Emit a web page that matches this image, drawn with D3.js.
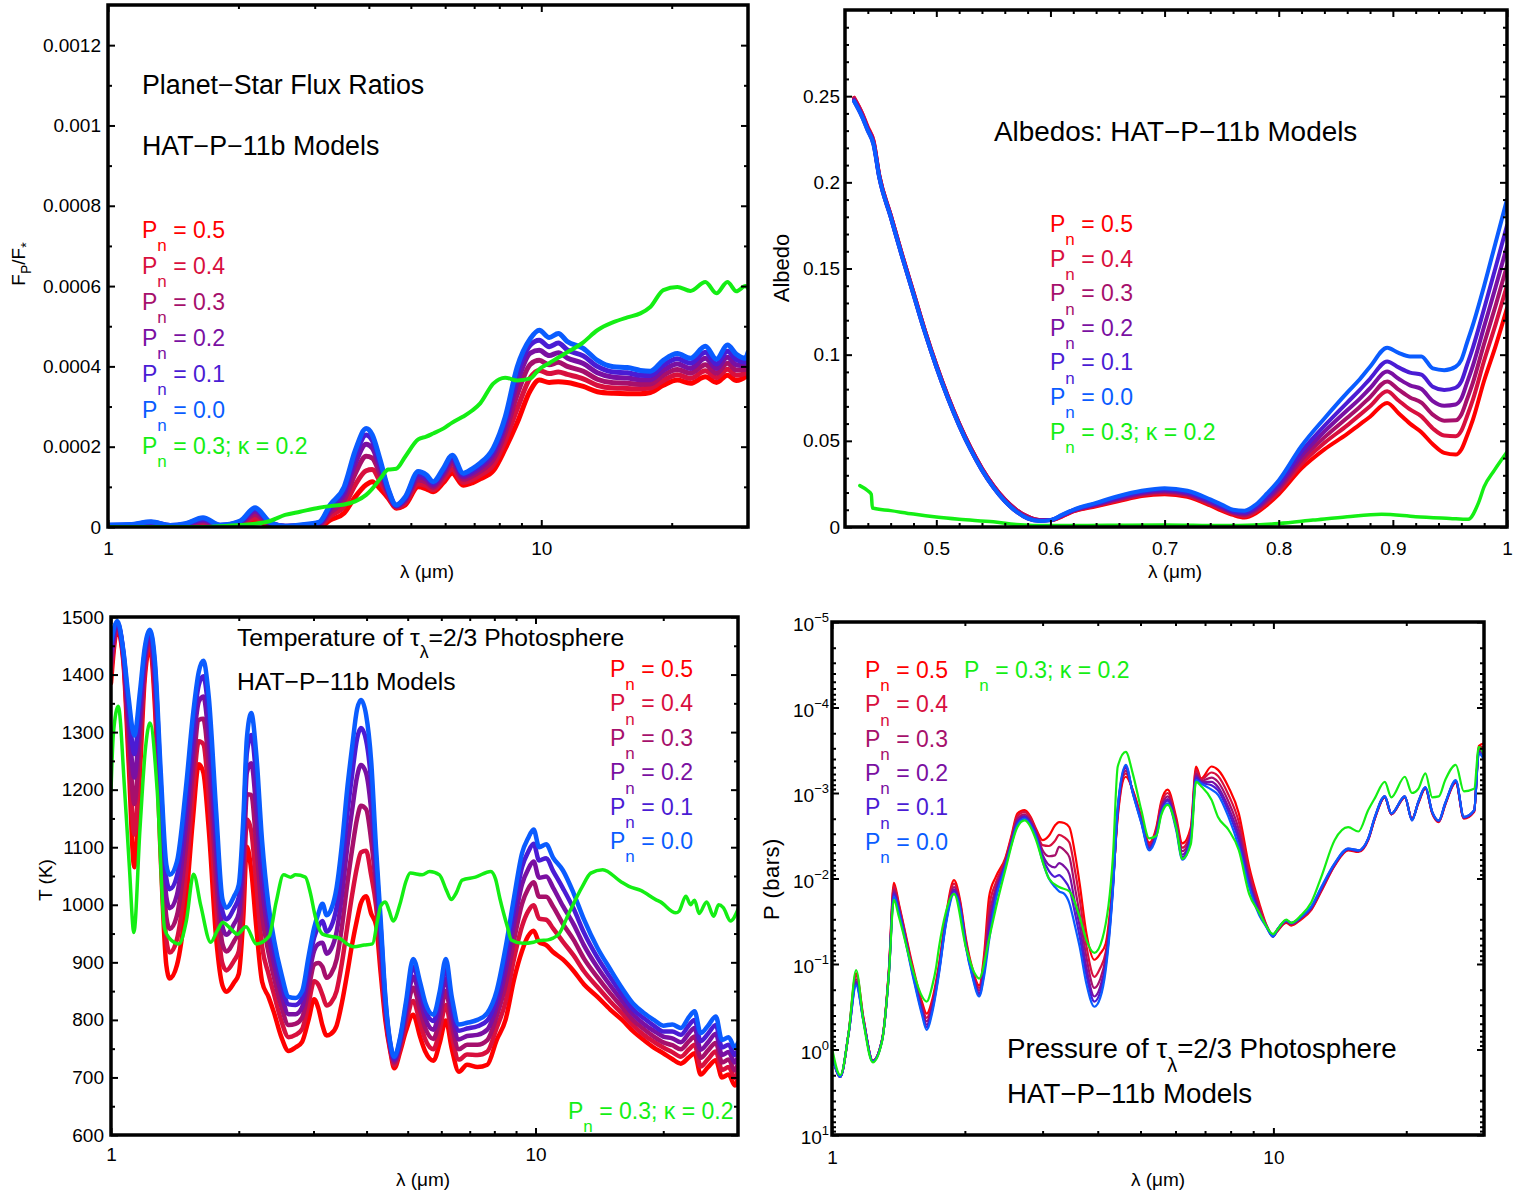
<!DOCTYPE html>
<html>
<head>
<meta charset="utf-8">
<script src="https://cdn.jsdelivr.net/npm/d3@7"></script>
<style>
  html, body { margin: 0; padding: 0; background: #fff; }
  svg text { font-family: "Liberation Sans", Arial, Helvetica, sans-serif; }
</style>
</head>
<body>
<svg id="fig" width="1530" height="1197"></svg>
<script>
// ===================== model series =====================
const PN_LABELS = ["0.5", "0.4", "0.3", "0.2", "0.1", "0.0"];
const KAPPA_LABEL = "0.3; \u03ba = 0.2";

// --- Planet-star flux ratio (values in units of 1e-4) ---
const fluxWavelength = [1.00,1.124,1.257,1.391,1.506,1.657,1.814,2.018,2.185,2.366,2.563,2.776,3.072,3.256,3.508,3.720,3.943,4.071,4.248,4.433,4.626,4.852,5.199,5.425,5.630,5.938,6.229,6.604,6.928,7.229,7.746,8.257,8.803,9.433,9.894,10.43,10.95,11.48,12.50,13.47,14.67,15.80,16.93,17.85,19.13,20.61,22.09,23.92,25.37,26.89,28.20,29.59,30.0];
const fluxPn05 = [0,0,0.02,0,0,0.05,0,0.03,0.15,0.03,0,0,0,0.17,0.35,0.75,1.05,1.13,0.95,0.72,0.47,0.55,1.0,0.95,0.88,1.1,1.34,1.04,1.1,1.2,1.4,1.95,2.6,3.4,3.66,3.60,3.62,3.60,3.50,3.37,3.33,3.32,3.32,3.35,3.53,3.66,3.58,3.74,3.60,3.78,3.65,3.74,3.80];
const fluxPn04 = [.01,.01,.04,.01,.02,.09,.01,.06,.23,.05,.01,.01,.03,.27,.52,1.05,1.40,1.43,1.13,.78,.49,.60,1.08,1.03,.93,1.18,1.44,1.11,1.18,1.29,1.54,2.15,2.95,3.72,3.90,3.82,3.86,3.80,3.69,3.53,3.46,3.45,3.44,3.46,3.65,3.79,3.70,3.89,3.72,3.93,3.78,3.83,3.91];
const fluxPn03 = [.02,.03,.07,.02,.04,.13,.02,.09,.31,.07,.01,.02,.06,.36,.68,1.33,1.76,1.72,1.31,.83,.51,.65,1.17,1.12,.99,1.27,1.56,1.19,1.27,1.39,1.68,2.35,3.30,4.05,4.15,4.04,4.10,4.00,3.88,3.68,3.59,3.58,3.55,3.56,3.78,3.92,3.83,4.04,3.83,4.08,3.91,3.92,4.02];
const fluxPn02 = [.03,.04,.10,.03,.06,.17,.03,.11,.39,.09,.02,.03,.08,.44,.82,1.58,2.06,1.97,1.46,.88,.53,.69,1.25,1.19,1.04,1.34,1.66,1.25,1.34,1.47,1.80,2.52,3.60,4.33,4.40,4.27,4.34,4.21,4.07,3.84,3.73,3.71,3.67,3.67,3.90,4.06,3.95,4.20,3.95,4.23,4.04,4.02,4.13];
const fluxPn01 = [.04,.05,.12,.04,.07,.20,.04,.13,.44,.11,.02,.04,.10,.50,.92,1.76,2.29,2.16,1.58,.92,.54,.72,1.32,1.25,1.09,1.40,1.73,1.30,1.40,1.54,1.89,2.65,3.82,4.53,4.65,4.49,4.58,4.41,4.26,4.00,3.86,3.84,3.78,3.77,4.03,4.19,4.08,4.35,4.06,4.38,4.17,4.11,4.24];
const fluxPn00 = [0.05,0.06,0.13,0.04,0.08,0.23,0.05,0.15,0.48,0.12,0.02,0.05,0.12,0.55,1.0,1.9,2.45,2.3,1.67,0.95,0.55,0.75,1.38,1.3,1.13,1.45,1.79,1.34,1.45,1.59,1.96,2.74,3.99,4.69,4.90,4.72,4.82,4.62,4.45,4.15,3.99,3.97,3.90,3.88,4.15,4.32,4.20,4.50,4.18,4.53,4.30,4.20,4.35];
const fluxKappa = [0,0,0,0,0,0,0.02,0.05,0.08,0.15,0.3,0.38,0.48,0.52,0.56,0.64,0.8,0.95,1.2,1.43,1.45,1.75,2.18,2.25,2.33,2.45,2.6,2.75,2.9,3.08,3.57,3.72,3.65,3.7,3.93,4.08,4.22,4.35,4.6,4.9,5.1,5.22,5.32,5.48,5.9,5.98,5.88,6.1,5.82,6.1,5.87,6.0,5.95];
const fluxTickValues = [0, 2, 4, 6, 8, 10, 12];
const fluxTickLabels = ["0", "0.0002", "0.0004", "0.0006", "0.0008", "0.001", "0.0012"];

// --- Albedo ---
const albedoWavelength = [0.428,0.435,0.44,0.445,0.45,0.46,0.47,0.48,0.49,0.50,0.51,0.52,0.53,0.54,0.55,0.56,0.57,0.58,0.59,0.60,0.61,0.62,0.64,0.66,0.68,0.70,0.72,0.74,0.75,0.76,0.77,0.78,0.79,0.80,0.82,0.84,0.86,0.87,0.88,0.895,0.905,0.915,0.925,0.935,0.945,0.955,0.96,0.965,0.97,0.98,0.99,1.0];
const albedoPn05 = [0.249,0.240,0.232,0.224,0.204,0.181,0.158,0.136,0.114,0.094,0.076,0.060,0.046,0.034,0.024,0.016,0.010,0.006,0.004,0.004,0.006,0.009,0.012,0.015,0.018,0.019,0.0175,0.0125,0.0095,0.007,0.0055,0.008,0.013,0.019,0.034,0.045,0.054,0.059,0.064,0.072,0.066,0.060,0.055,0.048,0.043,0.042,0.045,0.053,0.062,0.085,0.105,0.127];
const albedoPn04 = [0.249,0.240,0.231,0.224,0.204,0.181,0.158,0.136,0.114,0.094,0.076,0.060,0.046,0.034,0.024,0.016,0.010,0.006,0.004,0.004,0.0062,0.0092,0.0124,0.0156,0.0186,0.0197,0.0182,0.0132,0.0102,0.0076,0.0063,0.0091,0.0144,0.0207,0.0367,0.0488,0.0590,0.0645,0.0701,0.0787,0.0734,0.0682,0.0642,0.0572,0.0531,0.0527,0.0559,0.0643,0.0736,0.0966,0.1176,0.1402];
const albedoPn03 = [0.248,0.239,0.231,0.223,0.204,0.181,0.158,0.136,0.114,0.094,0.076,0.060,0.046,0.034,0.024,0.016,0.010,0.006,0.004,0.004,0.0064,0.0094,0.0128,0.0162,0.0192,0.0204,0.0189,0.0139,0.0109,0.0082,0.0071,0.0100,0.0156,0.0221,0.0391,0.0520,0.0634,0.0691,0.0753,0.0845,0.0797,0.0752,0.0722,0.0652,0.0617,0.0619,0.0653,0.0741,0.0835,0.1065,0.1284,0.1516];
const albedoPn02 = [0.248,0.239,0.231,0.223,0.203,0.180,0.157,0.135,0.113,0.093,0.075,0.059,0.045,0.033,0.023,0.015,0.009,0.005,0.0037,0.004,0.0066,0.0096,0.0131,0.0167,0.0197,0.0210,0.0195,0.0145,0.0115,0.0087,0.0078,0.0109,0.0168,0.0236,0.0414,0.0553,0.0677,0.0738,0.0805,0.0902,0.0860,0.0822,0.0801,0.0731,0.0704,0.0711,0.0746,0.0838,0.0934,0.1164,0.1392,0.1629];
const albedoPn01 = [0.247,0.238,0.230,0.222,0.203,0.180,0.157,0.135,0.113,0.093,0.075,0.059,0.045,0.033,0.023,0.015,0.009,0.005,0.0036,0.004,0.0068,0.0098,0.0135,0.0173,0.0203,0.0217,0.0202,0.0152,0.0122,0.0093,0.0085,0.0118,0.0180,0.0251,0.0439,0.0587,0.0722,0.0788,0.0860,0.0961,0.0926,0.0896,0.0884,0.0814,0.0795,0.0808,0.0845,0.0940,0.1038,0.1268,0.1506,0.1749];
const albedoPn00 = [0.247,0.238,0.230,0.222,0.203,0.180,0.157,0.135,0.113,0.093,0.075,0.059,0.045,0.033,0.023,0.015,0.009,0.005,0.0035,0.004,0.007,0.010,0.014,0.018,0.021,0.0225,0.021,0.016,0.013,0.010,0.0095,0.013,0.0196,0.027,0.047,0.063,0.078,0.085,0.093,0.104,0.101,0.099,0.099,0.092,0.091,0.093,0.097,0.107,0.117,0.140,0.165,0.190];
const albedoKappaWavelength = [0.433,0.44,0.443,0.444,0.46,0.48,0.50,0.52,0.55,0.57,0.60,0.65,0.70,0.75,0.78,0.80,0.83,0.86,0.89,0.92,0.95,0.966,0.975,0.98,0.989,1.0];
const albedoKappa = [0.024,0.021,0.019,0.011,0.0095,0.0075,0.0058,0.0045,0.003,0.0015,0.0008,0.001,0.0012,0.0008,0.0012,0.002,0.004,0.006,0.0074,0.006,0.005,0.0045,0.014,0.0234,0.033,0.0435];
const albedoTickValues = [0, 0.05, 0.1, 0.15, 0.2, 0.25];
const albedoTickLabels = ["0", "0.05", "0.1", "0.15", "0.2", "0.25"];
const albedoXTickValues = [0.5, 0.6, 0.7, 0.8, 0.9, 1.0];
const albedoXTickLabels = ["0.5", "0.6", "0.7", "0.8", "0.9", "1"];

// --- Temperature of the tau=2/3 photosphere (K) ---
const tempWavelength = [1.00,1.035,1.07,1.10,1.135,1.17,1.20,1.235,1.27,1.31,1.35,1.375,1.43,1.50,1.56,1.61,1.65,1.70,1.77,1.83,1.87,1.95,2.00,2.05,2.09,2.14,2.20,2.27,2.35,2.42,2.52,2.62,2.72,2.82,2.92,3.01,3.08,3.15,3.22,3.30,3.40,3.50,3.60,3.70,3.80,3.88,3.99,4.10,4.21,4.32,4.43,4.55,4.65,4.80,4.95,5.15,5.35,5.50,5.75,5.95,6.15,6.35,6.60,6.90,7.30,7.70,8.10,8.50,8.90,9.30,9.60,9.90,10.2,10.6,11.0,11.6,12.3,13.0,14.0,15.0,16.0,17.0,18.0,19.0,20.0,21.0,22.0,23.0,23.7,24.5,25.5,26.6,27.5,28.5,29.5,30.0];
const tempPn05 = [1385,1478,1420,1250,1065,1230,1390,1447,1340,1080,895,872,895,1000,1150,1244,1230,1130,940,860,849,865,880,980,1101,1060,960,866,840,813,770,746,752,762,800,836,820,790,773,776,790,830,880,932,975,1003,1015,985,965,880,799,745,716,745,780,809,770,745,729,760,799,750,710,722,718,722,765,800,870,920,945,955,935,930,918,905,885,862,840,818,800,780,765,752,742,732,724,735,742,705,718,730,700,705,686,700];
const tempPn04 = [1403,1482,1425,1278,1122,1265,1404,1455,1360,1118,939,917,940,1050,1195,1284,1279,1188,995,898,886,903,919,1023,1148,1128,1035,927,880,845,798,770,774,784,828,867,861,843,825,830,850,899,960,1018,1066,1091,1094,1052,999,903,809,749,721,751,793,833,794,766,749,783,826,773,731,740,739,745,786,831,906,963,988,999,976,974,959,936,912,885,857,832,811,790,774,762,752,744,736,749,757,719,732,745,713,718,699,712];
const tempPn03 = [1419,1485,1430,1303,1175,1297,1416,1462,1378,1152,979,958,981,1096,1236,1321,1323,1240,1046,932,919,937,954,1062,1192,1191,1104,983,917,874,823,791,793,804,853,896,899,892,873,880,905,962,1034,1097,1150,1172,1166,1113,1030,924,819,752,726,757,804,856,816,786,767,803,850,793,749,757,757,765,806,860,938,1002,1027,1039,1014,1014,997,967,939,907,874,846,822,799,784,771,761,756,749,763,771,734,747,760,726,731,712,724];
const tempPn02 = [1433,1488,1434,1325,1221,1325,1427,1468,1394,1182,1014,994,1017,1136,1272,1353,1362,1286,1090,962,948,967,985,1096,1230,1246,1164,1032,949,899,845,810,810,822,875,920,932,934,915,923,953,1017,1098,1165,1223,1243,1229,1166,1057,943,827,755,730,762,814,875,835,803,783,821,872,811,766,772,774,783,823,885,967,1036,1061,1075,1047,1049,1030,998,966,930,891,860,833,809,793,781,771,768,761,777,786,748,761,776,739,744,726,736];
const tempPn01 = [1445,1491,1437,1345,1262,1350,1437,1474,1409,1209,1046,1027,1050,1172,1305,1382,1397,1328,1129,989,975,994,1013,1126,1264,1295,1218,1076,978,922,865,827,826,838,895,943,962,972,953,962,996,1067,1155,1227,1289,1307,1286,1214,1081,959,834,758,733,767,823,892,852,818,798,837,891,827,781,785,789,799,838,908,992,1066,1091,1106,1077,1081,1059,1029,993,952,908,874,844,818,803,790,780,780,774,791,800,763,776,791,752,757,739,748];
const tempPn00 = [1455,1493,1440,1360,1294,1370,1445,1478,1420,1230,1070,1052,1075,1200,1330,1405,1424,1360,1160,1010,995,1015,1035,1150,1290,1333,1260,1110,1000,940,880,840,838,850,910,960,985,1002,982,992,1030,1105,1200,1275,1340,1356,1330,1251,1100,972,840,760,736,770,830,906,865,830,809,850,906,840,792,795,800,812,850,925,1012,1090,1115,1131,1100,1105,1082,1060,1020,975,925,888,855,828,812,800,790,792,786,805,815,777,790,806,765,770,752,760];
const tempKappaWavelength = [1.0,1.013,1.04,1.077,1.105,1.132,1.17,1.205,1.235,1.285,1.337,1.372,1.446,1.505,1.565,1.628,1.717,1.78,1.834,1.91,1.985,2.08,2.2,2.357,2.45,2.55,2.65,2.72,2.87,2.95,3.03,3.15,3.3,3.45,3.6,3.74,3.95,4.13,4.25,4.32,4.43,4.52,4.62,4.81,4.95,5.07,5.41,5.63,5.94,6.17,6.33,6.5,6.72,7.22,7.85,8.05,8.25,8.6,8.77,9.34,9.9,10.2,10.7,11.0,11.35,12.0,12.9,13.5,14.4,15.9,16.6,17.7,19.2,19.7,21.4,21.8,22.6,23.2,23.7,24.3,25.3,26.3,27.0,27.7,28.8,30];
const tempKappa = [1198,1297,1345,1198,1065,952,1131,1270,1316,1198,959,942,932,972,1053,998,935,955,969,959,949,962,932,945,1005,1052,1048,1052,1048,1020,979,949,945,942,932,927,930,932,975,998,1005,990,972,1005,1040,1055,1052,1058,1052,1025,1009,1020,1043,1048,1058,1045,1010,960,939,933,935,938,939,942,949,986,1032,1055,1061,1040,1032,1025,1009,1005,986,989,1015,1000,1008,985,1005,980,1000,995,972,992];
const tempTickValues = [600, 700, 800, 900, 1000, 1100, 1200, 1300, 1400, 1500];
const tempTickLabels = ["600", "700", "800", "900", "1000", "1100", "1200", "1300", "1400", "1500"];

// --- Pressure of the tau=2/3 photosphere (log10 of P in bars) ---
const presWavelength = [1.0,1.044,1.091,1.134,1.18,1.237,1.299,1.346,1.381,1.418,1.52,1.6,1.638,1.69,1.748,1.81,1.89,1.95,2.01,2.08,2.155,2.21,2.27,2.35,2.47,2.55,2.63,2.73,2.82,2.9,3.0,3.1,3.2,3.27,3.36,3.45,3.55,3.64,3.77,3.93,4.05,4.17,4.33,4.44,4.63,4.8,5.02,5.23,5.43,5.57,5.76,6.02,6.22,6.5,6.68,6.86,7.24,7.49,7.91,8.35,8.81,9.29,9.62,9.98,10.2,10.7,10.97,11.55,12.18,12.84,13.77,14.77,15.58,16.4,16.98,17.88,18.5,19.85,20.6,21.3,22.1,22.9,23.7,24.5,25.9,27.0,28.5,29.2,30];
const logPresPn05 = [0.05,0.32,-0.2,-0.89,-0.35,0.13,-0.12,-0.95,-1.95,-1.7,-1.0,-0.55,-0.42,-0.6,-1.0,-1.55,-1.98,-1.75,-1.3,-0.95,-0.75,-1.1,-1.79,-2.02,-2.24,-2.5,-2.76,-2.8,-2.72,-2.58,-2.45,-2.5,-2.62,-2.66,-2.65,-2.6,-2.3,-1.94,-1.36,-1.05,-1.12,-1.24,-1.98,-2.72,-3.19,-3.04,-2.72,-2.42,-2.6,-2.9,-3.04,-2.72,-2.41,-2.6,-3.31,-3.17,-3.31,-3.27,-3.07,-2.76,-2.14,-1.71,-1.47,-1.32,-1.38,-1.48,-1.45,-1.52,-1.63,-1.85,-2.15,-2.33,-2.31,-2.45,-2.7,-2.95,-2.75,-2.95,-2.7,-2.88,-3.05,-2.76,-2.66,-2.86,-3.12,-2.7,-2.78,-3.55,-3.58];
const logPresPn04 = [0.05,0.32,-0.2,-0.86,-0.34,0.13,-0.12,-0.94,-1.91,-1.68,-0.97,-0.51,-0.37,-0.56,-0.97,-1.52,-1.94,-1.72,-1.27,-0.92,-0.72,-1.04,-1.66,-1.95,-2.22,-2.48,-2.73,-2.78,-2.7,-2.56,-2.39,-2.38,-2.44,-2.51,-2.48,-2.42,-2.1,-1.76,-1.21,-0.85,-0.95,-1.14,-1.95,-2.75,-3.23,-3.03,-2.7,-2.4,-2.57,-2.87,-3.0,-2.68,-2.36,-2.56,-3.27,-3.16,-3.24,-3.2,-2.98,-2.66,-2.08,-1.68,-1.46,-1.33,-1.39,-1.49,-1.46,-1.53,-1.64,-1.86,-2.16,-2.34,-2.32,-2.46,-2.71,-2.95,-2.75,-2.95,-2.69,-2.89,-3.06,-2.77,-2.67,-2.87,-3.13,-2.71,-2.79,-3.53,-3.54];
const logPresPn03 = [0.05,0.32,-0.2,-0.82,-0.33,0.13,-0.12,-0.92,-1.87,-1.65,-0.95,-0.48,-0.33,-0.53,-0.95,-1.5,-1.9,-1.7,-1.25,-0.9,-0.69,-0.98,-1.55,-1.89,-2.19,-2.45,-2.7,-2.75,-2.67,-2.54,-2.33,-2.26,-2.27,-2.37,-2.33,-2.25,-1.9,-1.58,-1.08,-0.72,-0.82,-1.08,-1.93,-2.78,-3.26,-3.02,-2.69,-2.38,-2.55,-2.83,-2.96,-2.65,-2.32,-2.53,-3.23,-3.14,-3.18,-3.13,-2.9,-2.57,-2.02,-1.64,-1.46,-1.34,-1.39,-1.5,-1.47,-1.54,-1.65,-1.87,-2.16,-2.34,-2.32,-2.46,-2.71,-2.95,-2.75,-2.95,-2.69,-2.89,-3.06,-2.77,-2.67,-2.87,-3.13,-2.71,-2.79,-3.51,-3.5];
const logPresPn02 = [0.05,0.32,-0.19,-0.79,-0.32,0.14,-0.11,-0.91,-1.84,-1.63,-0.93,-0.45,-0.29,-0.5,-0.93,-1.48,-1.87,-1.68,-1.23,-0.88,-0.66,-0.93,-1.44,-1.84,-2.17,-2.43,-2.67,-2.73,-2.65,-2.52,-2.28,-2.16,-2.13,-2.18,-2.14,-2.05,-1.72,-1.44,-0.96,-0.62,-0.73,-1.02,-1.91,-2.8,-3.29,-3.01,-2.67,-2.36,-2.53,-2.8,-2.93,-2.62,-2.28,-2.5,-3.2,-3.13,-3.13,-3.07,-2.83,-2.5,-1.98,-1.61,-1.45,-1.33,-1.4,-1.5,-1.47,-1.54,-1.66,-1.88,-2.17,-2.34,-2.32,-2.46,-2.71,-2.96,-2.76,-2.96,-2.69,-2.89,-3.06,-2.77,-2.67,-2.87,-3.14,-2.71,-2.79,-3.49,-3.46];
const logPresPn01 = [0.05,0.32,-0.19,-0.77,-0.32,0.14,-0.11,-0.9,-1.82,-1.62,-0.91,-0.43,-0.26,-0.48,-0.91,-1.47,-1.85,-1.67,-1.22,-0.87,-0.64,-0.89,-1.37,-1.8,-2.16,-2.42,-2.65,-2.72,-2.64,-2.51,-2.24,-2.09,-2.02,-2.04,-1.98,-1.88,-1.6,-1.32,-0.87,-0.56,-0.67,-0.98,-1.89,-2.82,-3.31,-3.01,-2.66,-2.35,-2.51,-2.78,-2.91,-2.6,-2.25,-2.48,-3.18,-3.12,-3.09,-3.03,-2.78,-2.44,-1.94,-1.59,-1.45,-1.32,-1.4,-1.51,-1.48,-1.55,-1.66,-1.89,-2.17,-2.35,-2.33,-2.47,-2.72,-2.96,-2.76,-2.96,-2.68,-2.9,-3.07,-2.78,-2.68,-2.88,-3.14,-2.72,-2.8,-3.47,-3.43];
const logPresPn00 = [0.05,0.32,-0.19,-0.75,-0.31,0.14,-0.11,-0.89,-1.79,-1.6,-0.89,-0.4,-0.23,-0.45,-0.89,-1.45,-1.82,-1.65,-1.2,-0.85,-0.62,-0.85,-1.28,-1.75,-2.14,-2.4,-2.63,-2.7,-2.62,-2.49,-2.2,-2.0,-1.9,-1.85,-1.82,-1.71,-1.45,-1.2,-0.77,-0.5,-0.6,-0.93,-1.87,-2.84,-3.33,-3.0,-2.65,-2.33,-2.49,-2.76,-2.88,-2.57,-2.22,-2.45,-3.15,-3.11,-3.04,-2.98,-2.72,-2.37,-1.9,-1.57,-1.44,-1.32,-1.40,-1.51,-1.48,-1.55,-1.67,-1.9,-2.18,-2.35,-2.33,-2.47,-2.72,-2.96,-2.76,-2.96,-2.68,-2.9,-3.07,-2.78,-2.68,-2.88,-3.15,-2.72,-2.8,-3.46,-3.39];
const presKappaWavelength = [1.0,1.044,1.091,1.134,1.18,1.237,1.299,1.346,1.381,1.418,1.52,1.6,1.638,1.688,1.72,1.748,1.81,1.89,2.01,2.1,2.155,2.27,2.35,2.47,2.63,2.73,2.9,3.0,3.1,3.27,3.45,3.64,3.77,3.93,4.1,4.33,4.44,4.63,4.8,5.02,5.23,5.43,5.57,5.76,6.02,6.22,6.5,6.68,6.86,7.24,7.49,7.91,8.35,8.81,9.29,9.62,9.98,10.2,10.7,10.97,11.55,12.18,12.84,13.77,14.77,15.58,16.4,16.98,17.88,18.5,19.85,20.6,21.3,22.1,22.9,23.7,24.5,25.9,27.0,28.5,29.2,30];
const logPresKappa = [-0.02,0.3,-0.2,-0.93,-0.3,0.15,-0.1,-0.9,-1.75,-1.55,-0.95,-0.62,-0.56,-0.75,-0.95,-1.2,-1.6,-1.82,-1.2,-0.9,-0.83,-1.3,-1.65,-2.1,-2.6,-2.68,-2.45,-2.2,-2.0,-1.9,-1.85,-1.55,-1.28,-1.13,-1.3,-2.26,-3.31,-3.48,-3.23,-2.8,-2.47,-2.5,-2.74,-2.86,-2.6,-2.23,-2.4,-3.13,-3.08,-2.92,-2.72,-2.57,-2.33,-1.82,-1.6,-1.45,-1.35,-1.4,-1.52,-1.48,-1.57,-1.72,-2.02,-2.45,-2.6,-2.55,-2.8,-2.94,-3.13,-2.95,-3.19,-3.0,-3.05,-3.23,-2.95,-2.96,-3.15,-3.33,-3.02,-3.05,-3.54,-3.45];
const presDecades = [-5, -4, -3, -2, -1, 0, 1];

const logXTickValues = [1, 10];
const logXTickLabels = ["1", "10"];

// ===================== styling =====================
const PN_COLORS = ["#ff0000", "#d8103e", "#a6106c", "#7a10a2", "#4a1cd4", "#0a5cff"];
const KAPPA_COLOR = "#14ee14";
const TICK_FONT = 19;

// ===================== drawing =====================
const svg = d3.select("#fig");

function styleAxis(sel) {
  sel.select(".domain").remove();
  sel.attr("font-size", TICK_FONT).attr("font-family", null);
  sel.selectAll(".tick line").attr("stroke", "#000").attr("stroke-width", 2);
  sel.selectAll(".tick text").attr("fill", "#000");
}

function addAxis(g, gen, tx, ty) {
  const a = g.append("g").attr("transform", `translate(${tx},${ty})`).call(gen);
  styleAxis(a);
  return a;
}

function drawPanel(cfg) {
  const { id, box, x, y } = cfg;
  const g = svg.append("g").attr("class", "panel-" + id);
  const W = box.x1 - box.x0, H = box.y1 - box.y0;

  svg.append("clipPath").attr("id", "clip-" + id)
    .append("rect").attr("x", box.x0).attr("y", box.y0).attr("width", W).attr("height", H);

  const lineLayer = g.append("g").attr("clip-path", `url(#clip-${id})`);
  const line = d3.line()
    .x(d => x(d[0]))
    .y(d => y(cfg.toY ? cfg.toY(d[1]) : d[1]))
    .curve(d3.curveMonotoneX);

  cfg.series.forEach(s => {
    lineLayer.append("path")
      .datum(d3.zip(s.x, s.y))
      .attr("d", line)
      .attr("fill", "none")
      .attr("stroke", s.color)
      .attr("stroke-width", s.width)
      .attr("stroke-linejoin", "round")
      .attr("stroke-linecap", "round");
  });

  const MAJ = 7, MIN = 4;
  // x axis: bottom (labelled) and top (mirrored)
  addAxis(g, d3.axisBottom(x).tickValues(cfg.xMajor).tickSize(-MAJ).tickPadding(cfg.xPad)
    .tickFormat((d, i) => cfg.xLabels[i]), 0, box.y1);
  addAxis(g, d3.axisBottom(x).tickValues(cfg.xMinor).tickSize(-MIN).tickFormat(""), 0, box.y1);
  addAxis(g, d3.axisTop(x).tickValues(cfg.xMajor).tickSize(-MAJ).tickFormat(""), 0, box.y0);
  addAxis(g, d3.axisTop(x).tickValues(cfg.xMinor).tickSize(-MIN).tickFormat(""), 0, box.y0);
  // y axis: left (labelled) and right (mirrored)
  addAxis(g, d3.axisLeft(y).tickValues(cfg.yMajor).tickSize(-MAJ).tickPadding(cfg.yPad)
    .tickFormat(cfg.yLabels ? ((d, i) => cfg.yLabels[i]) : ""), box.x0, 0);
  addAxis(g, d3.axisLeft(y).tickValues(cfg.yMinor).tickSize(-MIN).tickFormat(""), box.x0, 0);
  addAxis(g, d3.axisRight(y).tickValues(cfg.yMajor).tickSize(-MAJ).tickFormat(""), box.x1, 0);
  addAxis(g, d3.axisRight(y).tickValues(cfg.yMinor).tickSize(-MIN).tickFormat(""), box.x1, 0);

  g.append("rect")
    .attr("x", box.x0).attr("y", box.y0).attr("width", W).attr("height", H)
    .attr("fill", "none").attr("stroke", "#000").attr("stroke-width", 3.5);

  return g;
}

// P with subscript n, followed by " = value"
function pnText(g, px, py, value, color, size) {
  const t = g.append("text").attr("x", px).attr("y", py).attr("fill", color).style("font-size", size + "px");
  t.append("tspan").text("P");
  t.append("tspan").attr("dy", size * 0.58).style("font-size", (size * 0.74) + "px").text("n");
  t.append("tspan").attr("dy", -size * 0.58).text(" = " + value);
  return t;
}

function plainText(g, px, py, str, size) {
  return g.append("text").attr("x", px).attr("y", py).attr("fill", "#000").style("font-size", size + "px").text(str);
}

// "<before>τ_λ<after>"
function tauText(g, px, py, before, after, size) {
  const t = g.append("text").attr("x", px).attr("y", py).attr("fill", "#000").style("font-size", size + "px");
  t.append("tspan").text(before + "\u03c4");
  t.append("tspan").attr("dy", size * 0.5).style("font-size", (size * 0.72) + "px").text("\u03bb");
  t.append("tspan").attr("dy", -size * 0.5).text(after);
  return t;
}

function xTitle(g, cx, cy) {
  g.append("text").attr("x", cx).attr("y", cy).attr("text-anchor", "middle")
    .style("font-size", "19px").text("\u03bb (\u03bcm)");
}

function yTitle(g, cx, cy, size) {
  return g.append("text").attr("transform", `translate(${cx},${cy}) rotate(-90)`)
    .attr("text-anchor", "middle").style("font-size", (size || 19) + "px");
}

function pnSeries(xs, arrays, width) {
  return arrays.map((ys, i) => ({ x: xs, y: ys, color: PN_COLORS[i], width }));
}

const logMinor = [2, 3, 4, 5, 6, 7, 8, 9, 20];

// ---------- Panel 1: flux ratios ----------
{
  const box = { x0: 108, x1: 748, y0: 5, y1: 527 };
  const x = d3.scaleLog().domain([1, 30]).range([box.x0, box.x1]);
  const y = d3.scaleLinear().domain([0, 13]).range([box.y1, box.y0]);
  const series = pnSeries(fluxWavelength, [fluxPn05, fluxPn04, fluxPn03, fluxPn02, fluxPn01, fluxPn00], 5)
    .concat([{ x: fluxWavelength, y: fluxKappa, color: KAPPA_COLOR, width: 4 }]);
  const g = drawPanel({
    id: "flux", box, x, y, series,
    xMajor: logXTickValues, xLabels: logXTickLabels, xMinor: logMinor, xPad: 15,
    yMajor: fluxTickValues, yLabels: fluxTickLabels, yMinor: [1, 3, 5, 7, 9, 11], yPad: 7
  });
  plainText(g, 142, 94, "Planet\u2212Star Flux Ratios", 26.8);
  plainText(g, 142, 155, "HAT\u2212P\u221211b Models", 26.8);
  PN_LABELS.forEach((v, i) => pnText(g, 142, 238 + i * 36, v, PN_COLORS[i], 23));
  pnText(g, 142, 238 + 6 * 36, KAPPA_LABEL, KAPPA_COLOR, 23);
  xTitle(g, 427, 578);
  const t = yTitle(g, 25, 264, 19);
  t.append("tspan").text("F");
  t.append("tspan").attr("dy", 6).style("font-size", "14px").text("P");
  t.append("tspan").attr("dy", -6).text("/F");
  t.append("tspan").attr("dy", 6).style("font-size", "14px").text("*");
}

// ---------- Panel 2: albedos ----------
{
  const box = { x0: 845, x1: 1507, y0: 10, y1: 527 };
  const x = d3.scaleLinear().domain([0.42, 1.0]).range([box.x0, box.x1]);
  const y = d3.scaleLinear().domain([0, 0.3]).range([box.y1, box.y0]);
  const series = pnSeries(albedoWavelength, [albedoPn05, albedoPn04, albedoPn03, albedoPn02, albedoPn01, albedoPn00], 4)
    .concat([{ x: albedoKappaWavelength, y: albedoKappa, color: KAPPA_COLOR, width: 3.5 }]);
  const xMinor = d3.range(0.44, 0.999, 0.02).filter(v => Math.abs(v * 10 - Math.round(v * 10)) > 0.01);
  const yMinor = d3.range(0.01, 0.295, 0.01).filter(v => Math.abs(v * 20 - Math.round(v * 20)) > 0.01);
  const g = drawPanel({
    id: "albedo", box, x, y, series,
    xMajor: albedoXTickValues, xLabels: albedoXTickLabels, xMinor, xPad: 15,
    yMajor: albedoTickValues, yLabels: albedoTickLabels, yMinor, yPad: 5
  });
  plainText(g, 994, 141, "Albedos: HAT\u2212P\u221211b Models", 27.9);
  PN_LABELS.forEach((v, i) => pnText(g, 1050, 232 + i * 34.6, v, PN_COLORS[i], 23));
  pnText(g, 1050, 232 + 6 * 34.6, KAPPA_LABEL, KAPPA_COLOR, 23);
  xTitle(g, 1175, 578);
  yTitle(g, 789, 268, 22).text("Albedo");
}

// ---------- Panel 3: photosphere temperature ----------
{
  const box = { x0: 111, x1: 738, y0: 617, y1: 1135 };
  const x = d3.scaleLog().domain([1, 30]).range([box.x0, box.x1]);
  const y = d3.scaleLinear().domain([600, 1500]).range([box.y1, box.y0]);
  const series = pnSeries(tempWavelength, [tempPn05, tempPn04, tempPn03, tempPn02, tempPn01, tempPn00], 4.5)
    .concat([{ x: tempKappaWavelength, y: tempKappa, color: KAPPA_COLOR, width: 3.5 }]);
  const g = drawPanel({
    id: "temp", box, x, y, series,
    xMajor: logXTickValues, xLabels: logXTickLabels, xMinor: logMinor, xPad: 13,
    yMajor: tempTickValues, yLabels: tempTickLabels, yMinor: d3.range(650, 1500, 100), yPad: 7
  });
  tauText(g, 237, 646, "Temperature of ", "=2/3 Photosphere", 24.7);
  plainText(g, 237, 690, "HAT\u2212P\u221211b Models", 24.7);
  PN_LABELS.forEach((v, i) => pnText(g, 610, 677 + i * 34.4, v, PN_COLORS[i], 23));
  pnText(g, 568, 1119, KAPPA_LABEL, KAPPA_COLOR, 23);
  xTitle(g, 423, 1186);
  yTitle(g, 52, 880, 19).text("T (K)");
}

// ---------- Panel 4: photosphere pressure ----------
{
  const box = { x0: 832, x1: 1484, y0: 622, y1: 1135 };
  const x = d3.scaleLog().domain([1, 30]).range([box.x0, box.x1]);
  const y = d3.scaleLog().domain([1e-5, 10]).range([box.y0, box.y1]);
  const series = pnSeries(presWavelength, [logPresPn05, logPresPn04, logPresPn03, logPresPn02, logPresPn01, logPresPn00], 2.2)
    .concat([{ x: presKappaWavelength, y: logPresKappa, color: KAPPA_COLOR, width: 2.2 }]);
  const yMajor = presDecades.map(e => Math.pow(10, e));
  const yMinor = [];
  presDecades.slice(0, -1).forEach(e => { for (let k = 2; k <= 9; k++) yMinor.push(k * Math.pow(10, e)); });
  const g = drawPanel({
    id: "pres", box, x, y, series,
    toY: v => Math.pow(10, v),
    xMajor: logXTickValues, xLabels: logXTickLabels, xMinor: logMinor, xPad: 16,
    yMajor, yLabels: null, yMinor, yPad: 5
  });
  // decade labels with superscript exponents
  presDecades.forEach(e => {
    const t = g.append("text").attr("x", 829).attr("y", y(Math.pow(10, e)) + 9)
      .attr("text-anchor", "end").style("font-size", "19px");
    t.append("tspan").text("10");
    t.append("tspan").attr("dy", -9).style("font-size", "13px").text(e < 0 ? "\u2212" + (-e) : String(e));
  });
  PN_LABELS.forEach((v, i) => pnText(g, 865, 678 + i * 34.3, v, PN_COLORS[i], 23));
  pnText(g, 964, 678, KAPPA_LABEL, KAPPA_COLOR, 23);
  tauText(g, 1007, 1058, "Pressure of ", "=2/3 Photosphere", 27.7);
  plainText(g, 1007, 1103, "HAT\u2212P\u221211b Models", 27.7);
  xTitle(g, 1158, 1186);
  yTitle(g, 779, 879, 22).style("letter-spacing", "0.5px").text("P (bars)");
}
</script>
</body>
</html>
